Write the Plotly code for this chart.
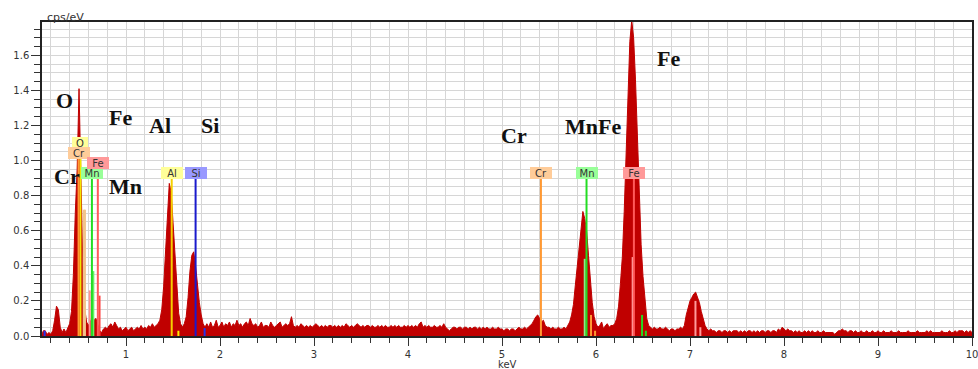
import numpy as np
import plotly.graph_objects as go

# Channel energies of the EDS spectrum (keV), 20 eV per channel
energy = np.round(np.arange(501) * 0.02, 2)

# Spectrum intensity per channel (cps/eV), 25 channels (0.5 keV) per row
counts = [
    # 0.00 - 0.48
    0.00, 0.00, 0.00, 0.00, 0.00, 0.00, 0.03, 0.03, 0.01, 0.02, 0.01, 0.03, 0.09, 0.17, 0.15, 0.05, 0.02, 0.04, 0.02, 0.05, 0.07, 0.14, 0.35, 0.70, 0.95,
    # 0.50 - 0.98
    1.41, 0.89, 0.42, 0.16, 0.08, 0.06, 0.08, 0.11, 0.09, 0.10, 0.06, 0.03, 0.02, 0.04, 0.05, 0.04, 0.06, 0.07, 0.05, 0.08, 0.06, 0.04, 0.05, 0.03, 0.04,
    # 1.00 - 1.48
    0.05, 0.03, 0.04, 0.05, 0.03, 0.04, 0.05, 0.04, 0.06, 0.04, 0.05, 0.04, 0.06, 0.05, 0.07, 0.05, 0.06, 0.07, 0.09, 0.15, 0.28, 0.47, 0.68, 0.87, 0.82,
    # 1.50 - 1.98
    0.63, 0.44, 0.26, 0.13, 0.07, 0.05, 0.07, 0.11, 0.22, 0.37, 0.46, 0.48, 0.40, 0.29, 0.19, 0.12, 0.07, 0.05, 0.07, 0.05, 0.08, 0.05, 0.06, 0.09, 0.05,
    # 2.00 - 2.48
    0.06, 0.08, 0.05, 0.07, 0.06, 0.08, 0.05, 0.07, 0.06, 0.09, 0.06, 0.07, 0.05, 0.07, 0.08, 0.06, 0.10, 0.07, 0.06, 0.07, 0.05, 0.06, 0.08, 0.05, 0.06,
    # 2.50 - 2.98
    0.06, 0.05, 0.08, 0.06, 0.05, 0.06, 0.07, 0.08, 0.05, 0.06, 0.07, 0.06, 0.07, 0.11, 0.06, 0.05, 0.06, 0.05, 0.07, 0.06, 0.05, 0.06, 0.05, 0.06, 0.05,
    # 3.00 - 3.48
    0.06, 0.07, 0.06, 0.05, 0.06, 0.05, 0.06, 0.05, 0.06, 0.06, 0.05, 0.06, 0.05, 0.06, 0.05, 0.06, 0.05, 0.07, 0.06, 0.05, 0.06, 0.05, 0.06, 0.07, 0.06,
    # 3.50 - 3.98
    0.05, 0.06, 0.05, 0.06, 0.06, 0.05, 0.06, 0.05, 0.05, 0.06, 0.05, 0.06, 0.05, 0.06, 0.05, 0.05, 0.06, 0.05, 0.06, 0.05, 0.06, 0.05, 0.05, 0.06, 0.05,
    # 4.00 - 4.48
    0.06, 0.05, 0.06, 0.05, 0.06, 0.05, 0.07, 0.08, 0.05, 0.06, 0.05, 0.06, 0.05, 0.05, 0.06, 0.05, 0.05, 0.06, 0.05, 0.07, 0.05, 0.04, 0.03, 0.04, 0.05,
    # 4.50 - 4.98
    0.05, 0.04, 0.05, 0.05, 0.04, 0.05, 0.05, 0.04, 0.05, 0.04, 0.05, 0.05, 0.04, 0.05, 0.04, 0.05, 0.04, 0.05, 0.04, 0.04, 0.05, 0.04, 0.04, 0.05, 0.04,
    # 5.00 - 5.48
    0.04, 0.03, 0.04, 0.04, 0.03, 0.04, 0.04, 0.03, 0.04, 0.05, 0.04, 0.04, 0.05, 0.04, 0.05, 0.06, 0.07, 0.09, 0.11, 0.12, 0.10, 0.08, 0.09, 0.06, 0.05,
    # 5.50 - 5.98
    0.05, 0.04, 0.05, 0.04, 0.04, 0.05, 0.04, 0.04, 0.05, 0.04, 0.06, 0.08, 0.12, 0.18, 0.29, 0.40, 0.50, 0.61, 0.71, 0.67, 0.60, 0.46, 0.31, 0.19, 0.11,
    # 6.00 - 6.48
    0.07, 0.05, 0.06, 0.08, 0.04, 0.06, 0.07, 0.05, 0.06, 0.06, 0.07, 0.10, 0.17, 0.30, 0.45, 0.71, 1.02, 1.38, 1.68, 1.80, 1.70, 1.46, 1.11, 0.78, 0.52,
    # 6.50 - 6.98
    0.34, 0.20, 0.10, 0.06, 0.05, 0.04, 0.05, 0.04, 0.04, 0.05, 0.04, 0.04, 0.05, 0.04, 0.03, 0.04, 0.04, 0.03, 0.04, 0.04, 0.05, 0.04, 0.06, 0.12, 0.16,
    # 7.00 - 7.48
    0.20, 0.22, 0.24, 0.25, 0.22, 0.19, 0.14, 0.10, 0.06, 0.04, 0.03, 0.04, 0.03, 0.03, 0.02, 0.03, 0.03, 0.02, 0.03, 0.03, 0.02, 0.03, 0.02, 0.03, 0.03,
    # 7.50 - 7.98
    0.03, 0.02, 0.03, 0.02, 0.03, 0.02, 0.03, 0.03, 0.02, 0.03, 0.02, 0.03, 0.02, 0.03, 0.03, 0.02, 0.03, 0.03, 0.02, 0.03, 0.03, 0.02, 0.04, 0.03, 0.05,
    # 8.00 - 8.48
    0.04, 0.03, 0.04, 0.03, 0.03, 0.02, 0.03, 0.02, 0.03, 0.02, 0.02, 0.03, 0.02, 0.03, 0.02, 0.03, 0.02, 0.02, 0.03, 0.02, 0.02, 0.03, 0.02, 0.02, 0.02,
    # 8.50 - 8.98
    0.02, 0.02, 0.01, 0.02, 0.03, 0.03, 0.04, 0.03, 0.03, 0.02, 0.03, 0.03, 0.02, 0.03, 0.02, 0.02, 0.03, 0.02, 0.02, 0.03, 0.02, 0.02, 0.03, 0.02, 0.02,
    # 9.00 - 9.48
    0.03, 0.02, 0.02, 0.03, 0.02, 0.02, 0.02, 0.03, 0.02, 0.02, 0.02, 0.03, 0.02, 0.02, 0.02, 0.02, 0.03, 0.02, 0.02, 0.02, 0.02, 0.03, 0.02, 0.02, 0.02,
    # 9.50 - 9.98
    0.02, 0.03, 0.02, 0.03, 0.02, 0.02, 0.02, 0.02, 0.02, 0.03, 0.02, 0.02, 0.02, 0.03, 0.02, 0.02, 0.03, 0.02, 0.03, 0.03, 0.03, 0.02, 0.03, 0.02, 0.03,
    # 10.00
    0.02,
]

# Identified element lines (keV) with their tag labels
line_labels = ["O", "Cr", "Mn", "Fe", "Al", "Si", "Cr", "Mn", "Fe"]
line_energy = [0.515, 0.495, 0.637, 0.700, 1.486, 1.740, 5.414, 5.899, 6.403]

# Secondary (weaker) family lines: energy (keV) and marker height (cps/eV)
minor_energy = [0.134, 0.550, 0.563, 0.613, 0.652, 0.718, 1.557, 1.836, 5.880, 5.947, 5.990, 6.390, 6.490, 6.530, 7.058, 7.110]
minor_height = [0.030, 0.720, 0.720, 0.260, 0.370, 0.230, 0.030, 0.045, 0.440, 0.120, 0.030, 0.450, 0.120, 0.030, 0.200, 0.050]

# Large element annotations placed over the spectrum
big_labels = ["O", "Fe", "Al", "Si", "Cr", "Mn", "Cr", "MnFe", "Fe"]
big_x = [0.347, 0.936, 1.361, 1.893, 0.377, 0.989, 5.127, 5.968, 6.773]
big_y = [1.340, 1.245, 1.198, 1.198, 0.909, 0.852, 1.145, 1.194, 1.582]

# ---- styling ----
SPEC = "#c00000"
GRID = "#d6d6d6"
TAG_BG = {"O": "#ffff99", "Cr": "#ffcc99", "Mn": "#99ff99", "Fe": "#ff9999", "Al": "#ffff99", "Si": "#9999ff"}
LINE_COL = {"O": "#f2e600", "Cr": "#ff9933", "Mn": "#22dd22", "Fe": "#ff5a5a", "Al": "#f5d000", "Si": "#1a1acc"}
MINOR_COL = ["#2233ee", "#f2c48a", "#f2c48a", "#ff9090", "#66ee66", "#ff4040", "#ffee00", "#2233ee",
             "#88ee88", "#ff9933", "#ff9933", "#ff9a9a", "#22dd22", "#22dd22", "#ff9a9a", "#ff9a9a"]
# tag box stacking (cps/eV of box bottom) for the crowded low-energy cluster
tag_bottom = [1.066, 1.009, 0.895, 0.952, 0.895, 0.895, 0.895, 0.895, 0.895]

fig = go.Figure()
fig.add_trace(go.Scatter(
    x=energy, y=counts, mode="lines", fill="tozeroy",
    line=dict(color=SPEC, width=1), fillcolor=SPEC,
    hoverinfo="skip", showlegend=False,
))

shapes = []
for e, h, c in zip(minor_energy, minor_height, MINOR_COL):
    shapes.append(dict(type="line", xref="x", yref="y", x0=e, x1=e, y0=0, y1=h,
                       line=dict(color=c, width=2), layer="above"))
for lab, e, top in zip(line_labels, line_energy, tag_bottom):
    shapes.append(dict(type="line", xref="x", yref="y", x0=e, x1=e, y0=0, y1=top,
                       line=dict(color=LINE_COL[lab], width=2), layer="above"))

annotations = []
for lab, e, top in zip(line_labels, line_energy, tag_bottom):
    annotations.append(dict(
        x=e, y=top, xref="x", yref="y", xanchor="center", yanchor="bottom",
        text=lab, showarrow=False, bgcolor=TAG_BG[lab], borderpad=0, borderwidth=0,
        width=10 + 6 * len(lab), height=12,
        font=dict(family="DejaVu Sans", size=10, color="#333333"),
    ))
for lab, x, y in zip(big_labels, big_x, big_y):
    annotations.append(dict(
        x=x, y=y, xref="x", yref="y", xanchor="center", yanchor="middle",
        text=lab, showarrow=False,
        font=dict(family="Liberation Serif", size=22, color="#111111", weight="bold"),
    ))
annotations.append(dict(x=0.003, y=1, xref="paper", yref="paper", xanchor="left", yanchor="middle",
                        yshift=5, text="cps/eV", showarrow=False,
                        font=dict(family="DejaVu Sans", size=11, color="#333333")))
annotations.append(dict(x=0.501, y=0, xref="paper", yref="paper", xanchor="center", yanchor="middle",
                        yshift=-28, text="keV", showarrow=False,
                        font=dict(family="DejaVu Sans", size=10, color="#333333")))

tickfont = dict(family="DejaVu Sans", size=10, color="#333333")
fig.update_xaxes(
    range=[0.106, 10], tick0=0, dtick=1, ticks="outside", ticklen=8, tickcolor="#333333",
    ticklabeloverflow="allow", automargin=False,
    showline=True, linecolor="#222222", linewidth=1.5, mirror=True,
    showgrid=True, gridcolor=GRID, gridwidth=1, zeroline=False, tickfont=tickfont,
    minor=dict(tick0=0, dtick=0.2, ticks="outside", ticklen=5, tickcolor="#333333",
               showgrid=True, gridcolor=GRID, gridwidth=1),
)
fig.update_yaxes(
    range=[0, 1.79], tick0=0, dtick=0.2, tickformat=".1f", ticks="outside", ticklen=9,
    tickcolor="#333333", showline=True, linecolor="#222222", linewidth=1.5, mirror=True,
    automargin=False,
    showgrid=True, gridcolor=GRID, gridwidth=1, zeroline=False, tickfont=tickfont,
    minor=dict(tick0=0, dtick=0.05, ticks="outside", ticklen=6, tickcolor="#333333",
               showgrid=True, gridcolor=GRID, gridwidth=1),
)
fig.update_layout(
    width=978, height=369, margin=dict(l=42, r=6, t=22, b=33),
    paper_bgcolor="white", plot_bgcolor="white",
    shapes=shapes, annotations=annotations, showlegend=False,
)

fig.write_html("out.html")
